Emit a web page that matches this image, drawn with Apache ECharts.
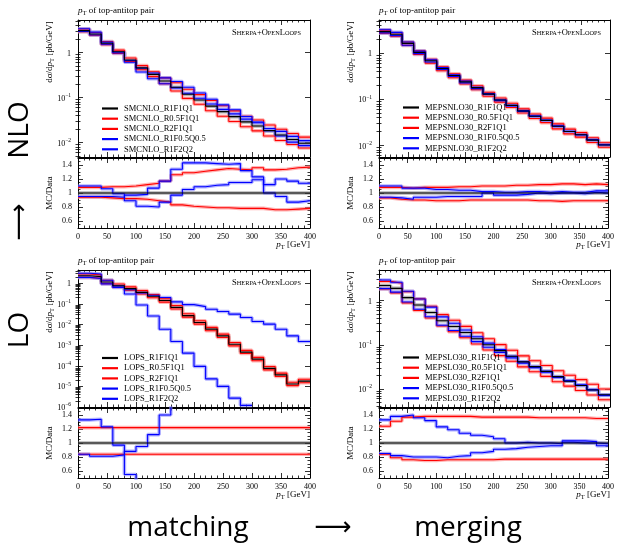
<!DOCTYPE html>
<html>
<head>
<meta charset="utf-8">
<script src="https://cdn.jsdelivr.net/npm/echarts@6/dist/echarts.min.js"></script>
<style>
  html, body { margin: 0; padding: 0; background: #fff; }
  #chart { width: 617px; height: 548px; }
</style>
</head>
<body>
<div id="chart"></div>
<script>
// bin edges in GeV (20 bins)
const binEdges = [0, 20, 40, 60, 80, 100, 120, 140, 160, 180, 200, 220, 240, 260, 280, 300, 320, 340, 360, 380, 400];
const ratioRef = [1, 1, 1, 1, 1, 1, 1, 1, 1, 1, 1, 1, 1, 1, 1, 1, 1, 1, 1, 1];

// --- top left: SMCNLO ---
const smcnloNames = ['SMCNLO_R1F1Q1', 'SMCNLO_R0.5F1Q1', 'SMCNLO_R2F1Q1', 'SMCNLO_R1F0.5Q0.5', 'SMCNLO_R1F2Q2'];
const smcnloR1F1Q1 = [3.1, 2.6, 1.62, 1.05, 0.69, 0.46, 0.33, 0.235, 0.17, 0.119, 0.089, 0.065, 0.049, 0.038, 0.029, 0.0234, 0.0185, 0.0148, 0.0118, 0.0097];
const smcnloR05F1Q1 = [3.35, 2.81, 1.77, 1.14, 0.76, 0.515, 0.376, 0.275, 0.214, 0.154, 0.117, 0.0865, 0.0662, 0.0509, 0.0386, 0.0318, 0.0246, 0.0198, 0.016, 0.0133];
const smcnloR2F1Q1 = [2.91, 2.44, 1.51, 0.966, 0.635, 0.419, 0.294, 0.204, 0.141, 0.0964, 0.0712, 0.0514, 0.0387, 0.0296, 0.0226, 0.0183, 0.0141, 0.0112, 0.0091, 0.0076];
const smcnloR1F05Q05 = [3.41, 2.86, 1.72, 1.04, 0.614, 0.373, 0.264, 0.204, 0.165, 0.125, 0.097, 0.0722, 0.0549, 0.0437, 0.0334, 0.0278, 0.0185, 0.0141, 0.0103, 0.0086];
const smcnloR1F2Q2 = [2.95, 2.47, 1.54, 0.987, 0.669, 0.451, 0.353, 0.275, 0.228, 0.17, 0.127, 0.0923, 0.0691, 0.054, 0.0383, 0.0288, 0.0207, 0.0178, 0.0138, 0.0111];
const smcnloRatioR05F1Q1 = [1.08, 1.08, 1.09, 1.09, 1.10, 1.12, 1.14, 1.17, 1.26, 1.29, 1.31, 1.33, 1.35, 1.34, 1.33, 1.36, 1.33, 1.34, 1.36, 1.37];
const smcnloRatioR2F1Q1 = [0.94, 0.94, 0.93, 0.92, 0.92, 0.91, 0.89, 0.87, 0.83, 0.81, 0.80, 0.79, 0.79, 0.78, 0.78, 0.78, 0.76, 0.76, 0.77, 0.78];
const smcnloRatioR1F05Q05 = [1.10, 1.10, 1.06, 0.99, 0.89, 0.81, 0.80, 0.87, 0.97, 1.05, 1.09, 1.11, 1.12, 1.15, 1.15, 1.19, 1.00, 0.95, 0.87, 0.89];
const smcnloRatioR1F2Q2 = [0.95, 0.95, 0.95, 0.94, 0.97, 0.98, 1.07, 1.17, 1.34, 1.43, 1.43, 1.42, 1.41, 1.42, 1.32, 1.23, 1.12, 1.20, 1.17, 1.14];

// --- top right: MEPSNLO30 ---
const mepsnloNames = ['MEPSNLO30_R1F1Q1', 'MEPSNLO30_R0.5F1Q1', 'MEPSNLO30_R2F1Q1', 'MEPSNLO30_R1F0.5Q0.5', 'MEPSNLO30_R1F2Q2'];
const mepsnloR1F1Q1 = [2.96, 2.6, 1.65, 1.05, 0.69, 0.47, 0.33, 0.24, 0.18, 0.13, 0.097, 0.074, 0.056, 0.043, 0.035, 0.026, 0.020, 0.017, 0.013, 0.0102];
const mepsnloR05F1Q1 = [3.2, 2.81, 1.77, 1.13, 0.745, 0.508, 0.36, 0.262, 0.198, 0.143, 0.107, 0.0821, 0.0622, 0.0482, 0.0392, 0.0294, 0.0226, 0.019, 0.0147, 0.0114];
const mepsnloR2F1Q1 = [2.75, 2.37, 1.49, 0.945, 0.614, 0.418, 0.294, 0.216, 0.162, 0.117, 0.0873, 0.0666, 0.0504, 0.0383, 0.0312, 0.0229, 0.0178, 0.0151, 0.0116, 0.0091];
const mepsnloR1F05Q05 = [3.26, 2.86, 1.77, 1.12, 0.725, 0.494, 0.343, 0.25, 0.184, 0.133, 0.098, 0.0747, 0.0571, 0.0439, 0.0354, 0.0265, 0.0202, 0.0172, 0.0134, 0.0105];
const mepsnloR1F2Q2 = [2.78, 2.42, 1.50, 0.987, 0.649, 0.447, 0.314, 0.228, 0.171, 0.13, 0.0941, 0.0718, 0.0549, 0.043, 0.0347, 0.026, 0.020, 0.0168, 0.0131, 0.0102];
const mepsnloRatioR05F1Q1 = [1.08, 1.08, 1.07, 1.08, 1.08, 1.08, 1.09, 1.09, 1.10, 1.10, 1.10, 1.11, 1.11, 1.12, 1.12, 1.13, 1.13, 1.12, 1.13, 1.12];
const mepsnloRatioR2F1Q1 = [0.93, 0.91, 0.90, 0.90, 0.89, 0.89, 0.89, 0.90, 0.90, 0.90, 0.90, 0.90, 0.90, 0.89, 0.89, 0.88, 0.89, 0.89, 0.89, 0.89];
const mepsnloRatioR1F05Q05 = [1.10, 1.10, 1.07, 1.07, 1.05, 1.05, 1.04, 1.04, 1.02, 1.02, 1.01, 1.01, 1.02, 1.02, 1.01, 1.02, 1.01, 1.01, 1.03, 1.03];
const mepsnloRatioR1F2Q2 = [0.94, 0.93, 0.91, 0.94, 0.94, 0.95, 0.95, 0.95, 0.95, 1.00, 0.97, 0.97, 0.98, 1.00, 0.99, 1.00, 1.00, 0.99, 1.01, 1.00];

// --- bottom left: LOPS ---
const lopsNames = ['LOPS_R1F1Q1', 'LOPS_R0.5F1Q1', 'LOPS_R2F1Q1', 'LOPS_R1F0.5Q0.5', 'LOPS_R1F2Q2'];
const lopsR1F1Q1 = [2.3, 2.1, 1.15, 0.76, 0.55, 0.36, 0.235, 0.145, 0.068, 0.027, 0.0125, 0.006, 0.0028, 0.0011, 0.00046, 0.00021, 0.000075, 0.000036, 0.000013, 0.000018];
const lopsR05F1Q1 = [2.81, 2.56, 1.40, 0.927, 0.671, 0.439, 0.287, 0.177, 0.083, 0.033, 0.0153, 0.0073, 0.0034, 0.00134, 0.00056, 0.000256, 0.000092, 0.000044, 0.0000159, 0.000022];
const lopsR2F1Q1 = [1.93, 1.76, 0.966, 0.638, 0.462, 0.302, 0.197, 0.122, 0.057, 0.0227, 0.0105, 0.005, 0.00235, 0.00092, 0.00039, 0.000176, 0.000063, 0.00003, 0.0000109, 0.0000151];
const lopsR1F05Q05 = [3.06, 2.81, 1.41, 0.74, 0.30, 0.089, 0.026, 0.0059, 0.0015, 0.00041, 0.000093, 0.000023, 0.00001, 0.0000027, 0.0000012, null, null, null, null, null];
const lopsR1F2Q2 = [1.93, 1.70, 0.93, 0.63, 0.484, 0.342, 0.263, 0.203, 0.125, 0.092, 0.074, 0.055, 0.043, 0.032, 0.022, 0.014, 0.0104, 0.0059, 0.0028, 0.0015];
const lopsRatioR05F1Q1 = [1.22, 1.22, 1.22, 1.22, 1.22, 1.22, 1.22, 1.22, 1.22, 1.22, 1.22, 1.22, 1.22, 1.22, 1.22, 1.22, 1.22, 1.22, 1.22, 1.22];
const lopsRatioR2F1Q1 = [0.84, 0.84, 0.84, 0.84, 0.84, 0.84, 0.84, 0.84, 0.84, 0.84, 0.84, 0.84, 0.84, 0.84, 0.84, 0.84, 0.84, 0.84, 0.84, 0.84];
const lopsRatioR1F05Q05 = [1.33, 1.34, 1.23, 0.97, 0.55, 0.25, 0.11, 0.041, 0.022, 0.015, 0.0074, 0.0038, 0.0036, 0.0025, 0.0026, null, null, null, null, null];
const lopsRatioR1F2Q2 = [0.84, 0.81, 0.81, 0.83, 0.88, 0.95, 1.12, 1.40, 1.84, 3.4, 5.9, 9.2, 15, 29, 48, 67, 139, 164, 215, 83];

// --- bottom right: MEPSLO30 ---
const mepsloNames = ['MEPSLO30_R1F1Q1', 'MEPSLO30_R0.5F1Q1', 'MEPSLO30_R2F1Q1', 'MEPSLO30_R1F0.5Q0.5', 'MEPSLO30_R1F2Q2'];
const mepsloR1F1Q1 = [2.2, 1.9, 1.17, 0.8, 0.54, 0.35, 0.26, 0.19, 0.137, 0.1, 0.074, 0.055, 0.041, 0.032, 0.025, 0.019, 0.015, 0.012, 0.0095, 0.0074];
const mepsloR05F1Q1 = [2.73, 2.49, 1.60, 1.10, 0.745, 0.483, 0.359, 0.262, 0.188, 0.137, 0.101, 0.0754, 0.0562, 0.0435, 0.034, 0.0258, 0.0204, 0.0163, 0.0128, 0.01];
const mepsloR2F1Q1 = [1.85, 1.50, 0.889, 0.60, 0.405, 0.266, 0.198, 0.144, 0.104, 0.076, 0.057, 0.0424, 0.0316, 0.0246, 0.0193, 0.0146, 0.0116, 0.0092, 0.0073, 0.0057];
const mepsloR1F05Q05 = [2.93, 2.62, 1.64, 1.09, 0.713, 0.43, 0.309, 0.217, 0.152, 0.109, 0.0784, 0.055, 0.0414, 0.032, 0.025, 0.0188, 0.0155, 0.0124, 0.0097, 0.0071];
const mepsloR1F2Q2 = [1.87, 1.56, 0.936, 0.64, 0.432, 0.277, 0.211, 0.156, 0.118, 0.088, 0.0673, 0.0506, 0.0385, 0.0304, 0.024, 0.0182, 0.0152, 0.012, 0.0095, 0.0073];
const mepsloRatioR05F1Q1 = [1.24, 1.31, 1.37, 1.38, 1.38, 1.38, 1.38, 1.38, 1.37, 1.37, 1.37, 1.37, 1.37, 1.36, 1.36, 1.36, 1.36, 1.36, 1.35, 1.35];
const mepsloRatioR2F1Q1 = [0.84, 0.79, 0.76, 0.75, 0.75, 0.76, 0.76, 0.76, 0.76, 0.76, 0.77, 0.77, 0.77, 0.77, 0.77, 0.77, 0.77, 0.77, 0.77, 0.77];
const mepsloRatioR1F05Q05 = [1.33, 1.38, 1.40, 1.36, 1.32, 1.23, 1.19, 1.14, 1.11, 1.09, 1.06, 1.00, 1.01, 1.00, 1.00, 0.99, 1.03, 1.03, 1.02, 0.96];
const mepsloRatioR1F2Q2 = [0.85, 0.82, 0.80, 0.80, 0.80, 0.79, 0.81, 0.82, 0.86, 0.88, 0.91, 0.92, 0.94, 0.95, 0.96, 0.96, 1.01, 1.00, 1.00, 0.99];

const serif = "'Liberation Serif', 'DejaVu Serif', serif";
const sans = "'Open Sans', 'Noto Sans', sans-serif";
const lineColors = ['#000000', '#ff0000', '#ff0000', '#0000ff', '#0000ff'];
const bandColors = ['#808080', '#ff8080', '#ff8080', '#8080ff', '#8080ff'];

const panels = [
  { left: 78, top: 20, width: 232, yMin: 0.0048, yMax: 5.33, legendLeft: 102, legendTop: 104, names: smcnloNames,
    main: [smcnloR1F1Q1, smcnloR05F1Q1, smcnloR2F1Q1, smcnloR1F05Q05, smcnloR1F2Q2],
    ratio: [ratioRef, smcnloRatioR05F1Q1, smcnloRatioR2F1Q1, smcnloRatioR1F05Q05, smcnloRatioR1F2Q2] },
  { left: 379, top: 20, width: 231, yMin: 0.0056, yMax: 5.3, legendLeft: 403, legendTop: 103, names: mepsnloNames,
    main: [mepsnloR1F1Q1, mepsnloR05F1Q1, mepsnloR2F1Q1, mepsnloR1F05Q05, mepsnloR1F2Q2],
    ratio: [ratioRef, mepsnloRatioR05F1Q1, mepsnloRatioR2F1Q1, mepsnloRatioR1F05Q05, mepsnloRatioR1F2Q2] },
  { left: 78, top: 270, width: 232, yMin: 1e-6, yMax: 4.4, legendLeft: 102, legendTop: 353.5, names: lopsNames,
    main: [lopsR1F1Q1, lopsR05F1Q1, lopsR2F1Q1, lopsR1F05Q05, lopsR1F2Q2],
    ratio: [ratioRef, lopsRatioR05F1Q1, lopsRatioR2F1Q1, lopsRatioR1F05Q05, lopsRatioR1F2Q2] },
  { left: 379, top: 270, width: 231, yMin: 0.0039, yMax: 4.95, legendLeft: 403, legendTop: 353, names: mepsloNames,
    main: [mepsloR1F1Q1, mepsloR05F1Q1, mepsloR2F1Q1, mepsloR1F05Q05, mepsloR1F2Q2],
    ratio: [ratioRef, mepsloRatioR05F1Q1, mepsloRatioR2F1Q1, mepsloRatioR1F05Q05, mepsloRatioR1F2Q2] }
];

function histPoints(values) {
  const pts = [];
  values.forEach((v, i) => {
    pts.push([binEdges[i], v]);
    pts.push([binEdges[i + 1], v]);
  });
  return pts;
}

function powLabel(v) {
  const e = Math.log10(v);
  const r = Math.round(e);
  if (Math.abs(e - r) > 1e-6) return '';
  if (r === 0) return '{b|1}';
  return '{b|10}{e|' + (r < 0 ? '\u2212' : '') + Math.abs(r) + '}';
}

function logMinorTicks(min, max) {
  const out = [];
  for (let e = -7; e <= 1; e++) {
    for (let m = 2; m <= 9; m++) {
      const v = m * Math.pow(10, e);
      if (v > min && v < max) out.push(v);
    }
  }
  return out;
}

const blackLine = { show: true, onZero: false, lineStyle: { color: '#000', width: 1 } };
const tickStyle = { color: '#000', width: 0.8 };
const labelFont = { fontFamily: serif, fontSize: 8, color: '#000' };

const grids = [], xAxes = [], yAxes = [], series = [], legends = [], elements = [];

function addXPair(grid, withLabels) {
  const base = {
    gridIndex: grid, type: 'value', min: 0, max: 400, interval: 50,
    axisLine: blackLine,
    axisTick: { show: true, inside: true, length: 5, lineStyle: tickStyle },
    minorTick: { show: true, splitNumber: 5, length: 2.5, lineStyle: tickStyle },
    splitLine: { show: false }
  };
  xAxes.push(Object.assign({}, base, { position: 'bottom',
    axisLabel: withLabels ? Object.assign({ show: true, margin: 5 }, labelFont) : { show: false } }));
  xAxes.push(Object.assign({}, base, { position: 'top', axisLabel: { show: false } }));
  return xAxes.length - 2;
}

function histSeries(name, values, xi, yi, j) {
  const common = { type: 'line', xAxisIndex: xi, yAxisIndex: yi, data: histPoints(values),
    symbol: 'none', showSymbol: false, silent: true, animation: false };
  series.push(Object.assign({}, common, { name: name + ' band', z: 2,
    lineStyle: { color: bandColors[j], width: 3.6, opacity: 0.6 }, itemStyle: { color: bandColors[j] } }));
  series.push(Object.assign({}, common, { name: name, z: j === 0 ? 4 : 3,
    lineStyle: { color: lineColors[j], width: 1.1 }, itemStyle: { color: lineColors[j] } }));
}

const rich = {
  n: { fontFamily: serif, fontSize: 9, lineHeight: 11, verticalAlign: 'middle', fill: '#000', color: '#000' },
  i: { fontFamily: serif, fontSize: 9, fontStyle: 'italic', lineHeight: 11, verticalAlign: 'middle', fill: '#000', color: '#000' },
  s: { fontFamily: serif, fontSize: 6.5, lineHeight: 6, verticalAlign: 'bottom', fill: '#000', color: '#000' },
  b: { fontFamily: serif, fontSize: 8.5, lineHeight: 10, verticalAlign: 'middle', fill: '#000', color: '#000' },
  c: { fontFamily: serif, fontSize: 6.3, lineHeight: 10, verticalAlign: 'middle', fill: '#000', color: '#000' }
};

function text(x, y, str, opts) {
  opts = opts || {};
  return {
    type: 'text', x: x, y: y, rotation: opts.rot || 0, silent: true,
    style: { text: str, rich: rich, fill: '#000', fontFamily: opts.family || serif, fontSize: opts.size || 9,
      align: opts.align || 'left', verticalAlign: 'middle' }
  };
}

panels.forEach((p) => {
  const gMain = grids.length;
  grids.push({ left: p.left, top: p.top, width: p.width, height: 137 });
  grids.push({ left: p.left, top: p.top + 138, width: p.width, height: 70 });
  const gRatio = gMain + 1;

  const xMain = addXPair(gMain, false);
  const xRatio = addXPair(gRatio, true);

  const minors = logMinorTicks(p.yMin, p.yMax);
  const logBase = { gridIndex: gMain, type: 'log', logBase: 10, min: p.yMin, max: p.yMax, splitLine: { show: false } };
  const yMain = yAxes.length;
  yAxes.push(Object.assign({}, logBase, { position: 'left', axisLine: blackLine,
    axisTick: { show: true, inside: true, length: 5, lineStyle: tickStyle },
    axisLabel: { show: true, margin: 7, formatter: powLabel, showMinLabel: true, showMaxLabel: true,
      rich: { b: { fontFamily: serif, fontSize: 8, lineHeight: 10, verticalAlign: 'bottom', color: '#000' },
              e: { fontFamily: serif, fontSize: 5.5, lineHeight: 6, verticalAlign: 'top', color: '#000' } } } }));
  yAxes.push(Object.assign({}, logBase, { position: 'left', axisLine: { show: false },
    axisTick: { show: true, inside: true, length: 2.5, lineStyle: tickStyle, customValues: minors }, axisLabel: { show: false } }));
  yAxes.push(Object.assign({}, logBase, { position: 'right', axisLine: blackLine,
    axisTick: { show: true, inside: true, length: 5, lineStyle: tickStyle }, axisLabel: { show: false } }));
  yAxes.push(Object.assign({}, logBase, { position: 'right', axisLine: { show: false },
    axisTick: { show: true, inside: true, length: 2.5, lineStyle: tickStyle, customValues: minors }, axisLabel: { show: false } }));

  const ratioBase = { gridIndex: gRatio, type: 'value', min: 0.5, max: 1.5, splitLine: { show: false },
    axisTick: { show: true, inside: true, length: 5, lineStyle: tickStyle },
    minorTick: { show: true, splitNumber: 4, length: 2.5, lineStyle: tickStyle } };
  const yRatio = yAxes.length;
  yAxes.push(Object.assign({}, ratioBase, { position: 'left', axisLine: blackLine,
    axisLabel: Object.assign({ show: true, margin: 6, showMinLabel: false, showMaxLabel: false }, labelFont) }));
  yAxes.push(Object.assign({}, ratioBase, { position: 'right', axisLine: blackLine, axisLabel: { show: false } }));

  p.main.forEach((vals, j) => histSeries(p.names[j], vals, xMain, yMain, j));
  p.ratio.forEach((vals, j) => histSeries(p.names[j], vals, xRatio, yRatio, j));

  legends.push({
    orient: 'vertical', left: p.legendLeft, top: p.legendTop, padding: 0, icon: 'rect',
    itemWidth: 16, itemHeight: 2.2, itemGap: 1.2,
    selectedMode: false, data: p.names,
    textStyle: { fontFamily: serif, fontSize: 8.5, color: '#000', lineHeight: 8.5, padding: [0, 0, 0, 1] }
  });

  const right = p.left + p.width;
  elements.push(text(p.left, p.top - 9, '{i|p}{s|T}{n| of top-antitop pair}'));
  elements.push(text(right - 9, p.top + 13, '{b|S}{c|HERPA}{b|+O}{c|PEN}{b|L}{c|OOPS}', { align: 'right' }));
  elements.push(text(right, p.top + 225, '{i|p}{s|T}{n| [GeV]}', { align: 'right' }));
  elements.push(text(p.left - 28, p.top + 32, '{n|d\u03c3/d}{i|p}{s|T}{n| [pb/GeV]}', { rot: Math.PI / 2, align: 'center' }));
  elements.push(text(p.left - 28, p.top + 173, '{n|MC/Data}', { rot: Math.PI / 2, align: 'center' }));
});

elements.push(text(20, 130, 'NLO', { rot: Math.PI / 2, align: 'center', family: sans, size: 28 }));
elements.push(text(20, 222, '\u27f6', { rot: Math.PI / 2, align: 'center', family: "'DejaVu Sans', sans-serif", size: 26 }));
elements.push(text(20, 330, 'LO', { rot: Math.PI / 2, align: 'center', family: sans, size: 28 }));
elements.push(text(188, 528, 'matching', { align: 'center', family: sans, size: 28 }));
elements.push(text(333, 528, '\u27f6', { align: 'center', family: "'DejaVu Sans', sans-serif", size: 26 }));
elements.push(text(468, 528, 'merging', { align: 'center', family: sans, size: 28 }));

const chart = echarts.init(document.getElementById('chart'), null, { renderer: 'canvas' });
chart.setOption({
  animation: false,
  backgroundColor: '#fff',
  grid: grids,
  xAxis: xAxes,
  yAxis: yAxes,
  legend: legends,
  series: series,
  graphic: { elements: elements }
});
</script>
</body>
</html>
